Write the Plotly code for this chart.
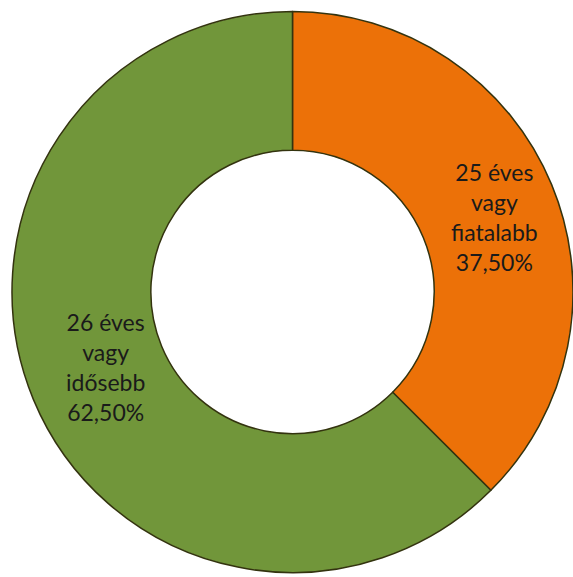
import plotly.graph_objects as go

labels = ["25 éves<br>vagy<br>fiatalabb", "26 éves<br>vagy<br>idősebb"]
values = [37.5, 62.5]
colors = ["#EC7108", "#71963A"]
label_pos = [(494.5, 217), (105, 367)]  # text block centres, pixels

W, H = 573, 577
total = sum(values)

fig = go.Figure(go.Pie(
    labels=labels,
    values=values,
    hole=0.505,
    sort=False,
    direction="clockwise",
    rotation=0,
    marker=dict(colors=colors, line=dict(color="#33330f", width=1.5)),
    textinfo="none",
    hoverinfo="skip",
    domain=dict(x=[12/W, 1.0], y=[3/H, 567/H]),
))

for lab, val, (px, py) in zip(labels, values, label_pos):
    pct = f"{val / total * 100:.2f}".replace(".", ",") + "%"
    fig.add_annotation(
        x=px / W, y=1 - py / H, xref="paper", yref="paper",
        xanchor="center", yanchor="middle",
        text=f"{lab}<br>{pct}", showarrow=False, align="center",
        font=dict(family="Lato, Open Sans, sans-serif", size=23, color="#1a1a1a"),
    )

fig.update_layout(
    width=W, height=H,
    margin=dict(l=0, r=0, t=0, b=0),
    showlegend=False,
    paper_bgcolor="white",
    plot_bgcolor="white",
)
fig.write_html("out.html", config={"displayModeBar": False},
               post_script="document.body.style.margin='0';")
